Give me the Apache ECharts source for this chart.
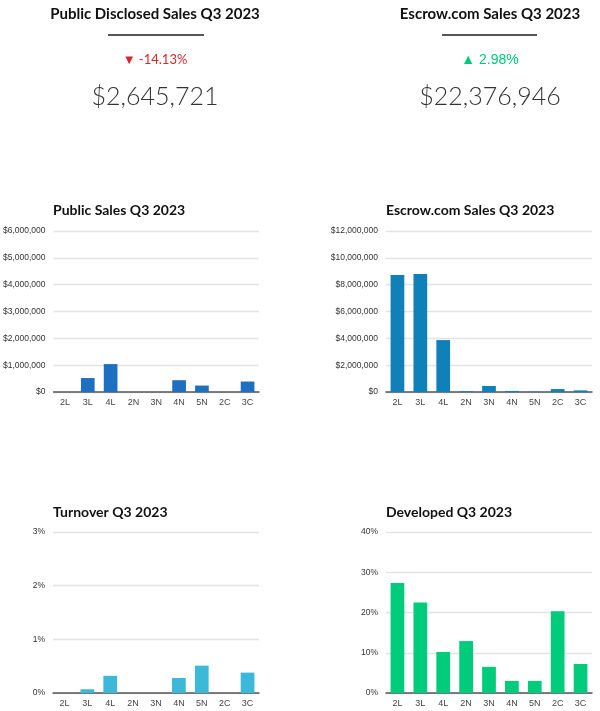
<!DOCTYPE html>
<html>
<head>
<meta charset="utf-8">
<style>
html,body{margin:0;padding:0;background:#fff;}
#c{width:600px;height:711px;}
</style>
<script src="https://cdn.jsdelivr.net/npm/echarts@6/dist/echarts.min.js"></script>
</head>
<body>
<div id="c"></div>
<script>
const categories = ['2L','3L','4L','2N','3N','4N','5N','2C','3C'];
const publicSales = [0, 520000, 1040000, 0, 0, 440000, 240000, 0, 390000];
const escrowSales = [8720000, 8800000, 3870000, 50000, 450000, 80000, 20000, 220000, 120000];
const turnover = [0, 0.07, 0.32, 0, 0, 0.28, 0.51, 0, 0.38];
const developed = [27.3, 22.5, 10.2, 12.9, 6.5, 3.0, 3.0, 20.3, 7.2];
const kpiTitles = ['Public Disclosed Sales Q3 2023', 'Escrow.com Sales Q3 2023'];
const kpiChanges = ['\u25BC -14.13%', '\u25B2 2.98%'];
const kpiValues = ['$2,645,721', '$22,376,946'];
const chartTitles = ['Public Sales Q3 2023', 'Escrow.com Sales Q3 2023', 'Turnover Q3 2023', 'Developed Q3 2023'];

const chart = echarts.init(document.getElementById('c'));
const titleFont = 'Lato';
const axisFont = '"Liberation Sans", Arial, sans-serif';

const grids = [
  {left:53, right:341, top:231, bottom:319},
  {left:386, right:8, top:231, bottom:319},
  {left:53, right:341, top:532, bottom:18},
  {left:386, right:8, top:532, bottom:18}
];
const money = v => '$' + v.toLocaleString('en-US');
const yCfg = [
  {max:6000000, interval:1000000, fmt: money},
  {max:12000000, interval:2000000, fmt: money},
  {max:3, interval:1, fmt: v => v + '%'},
  {max:40, interval:10, fmt: v => v + '%'}
];
const colors = ['#1f6fc1', '#0f81b8', '#3cb9d9', '#00cc7c'];
const datas = [publicSales, escrowSales, turnover, developed];

const titles = [];
kpiTitles.forEach((t,i)=>{
  const cx = i===0 ? 155 : 490;
  titles.push({text:t, left:cx, top:7, padding:0, textAlign:'center',
    textStyle:{fontFamily:titleFont, fontWeight:'bold', fontSize:15, color:'#111'}});
  titles.push({text:kpiChanges[i], left:cx, top:53, padding:0, textAlign:'center',
    textStyle:{fontFamily: i===0 ? titleFont : axisFont, fontWeight:'normal', fontSize: i===0 ? 13 : 14, color: i===0 ? '#d7262c' : '#00c97a'}});
  titles.push({text:kpiValues[i], left:cx, top:84, padding:0, textAlign:'center',
    textStyle:{fontFamily:titleFont, fontWeight:300, fontSize:25, color:'#333'}});
});
chartTitles.forEach((t,i)=>{
  titles.push({text:t, left: grids[i].left, top: i<2 ? 203 : 505, padding:0,
    textStyle:{fontFamily:titleFont, fontWeight:'bold', fontSize:14, color:'#111'}});
});

const option = {
  animation:false,
  backgroundColor:'#fff',
  title: titles,
  graphic: [
    {type:'line', shape:{x1:108,y1:35,x2:204,y2:35}, style:{stroke:'#555', lineWidth:2}},
    {type:'line', shape:{x1:442,y1:35,x2:537,y2:35}, style:{stroke:'#555', lineWidth:2}}
  ],
  grid: grids,
  xAxis: grids.map((g,i)=>({
    type:'category', gridIndex:i, data:categories,
    axisTick:{show:false},
    axisLine:{lineStyle:{color:'#555', width:1.5}},
    axisLabel:{fontFamily:axisFont, fontSize:9, color:'#444', margin:6, interval:0}
  })),
  yAxis: grids.map((g,i)=>({
    type:'value', gridIndex:i, min:0, max:yCfg[i].max, interval:yCfg[i].interval,
    axisLine:{show:false}, axisTick:{show:false},
    splitLine:{lineStyle:{color:'#e3e3e3', width:1.3}},
    axisLabel:{fontFamily:axisFont, fontSize:8.5, color:'#333', margin:8, formatter:yCfg[i].fmt}
  })),
  series: datas.map((d,i)=>({
    type:'bar', xAxisIndex:i, yAxisIndex:i, data:d, barWidth:'60%',
    itemStyle:{color:colors[i]}
  }))
};
chart.setOption(option);
</script>
</body>
</html>
